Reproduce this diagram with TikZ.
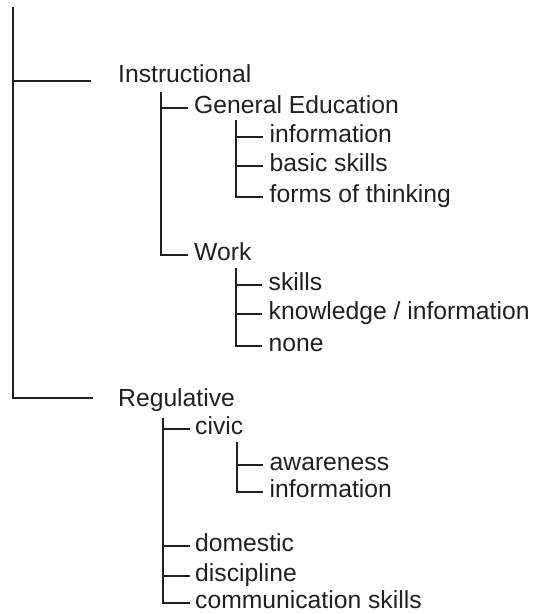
\documentclass[tikz,border=0pt]{standalone}
\usepackage{fontspec}
\setmainfont{Liberation Sans}
\definecolor{ink}{HTML}{231F20}
\begin{document}
\begin{tikzpicture}[x=1pt,y=-1pt,
  txt/.style={font=\fontsize{24.7}{30}\selectfont, text=ink},
  headitem/.style={txt, inner sep=0pt, anchor=base west},
  item/.style={txt, inner ysep=0pt, text height=12.5pt, text depth=2.5pt, anchor=west},
  midtier/.style={item, inner xsep=6pt},
  lowtier/.style={item, inner xsep=6.5pt},
  link/.style={draw=ink, line width=1.6pt}]
\useasboundingbox (0,0) rectangle (537,614);

% top-level categories
\node[headitem] (inst) at (118,82) {Instructional};
\node[headitem] (reg) at (118,406) {Regulative};

% instructional branch
\node[midtier] (gen) at (188,108) {General Education};
\node[midtier] (work) at (188,255) {Work};
\node[lowtier] (ginf) at (263,137) {information};
\node[lowtier] (gbas) at (263,166) {basic skills};
\node[lowtier] (gthk) at (263,197) {forms of thinking};
\node[lowtier] (wskl) at (262,285) {skills};
\node[lowtier] (wknw) at (262,314) {knowledge / information};
\node[lowtier] (wnon) at (262,346) {none};

% regulative branch
\node[midtier, inner xsep=5pt] (civ) at (190,429) {civic};
\node[midtier, inner xsep=5pt] (dom) at (190,546) {domestic};
\node[midtier, inner xsep=5pt] (dis) at (190,576) {discipline};
\node[midtier, inner xsep=5pt] (com) at (190,603) {communication skills};
\node[lowtier] (caw) at (263,465) {awareness};
\node[lowtier] (cinf) at (263,492) {information};

% tops of the vertical bars
\coordinate (root) at (13,7);
\coordinate (instbar) at (161,92);
\coordinate (genbar) at (236,120);
\coordinate (workbar) at (236,268);
\coordinate (regbar) at (163,418);
\coordinate (civbar) at (237,442);

% connectors
\draw[link] (root) |- ([xshift=-27pt,yshift=1pt]inst.base west);
\draw[link] (root) |- ([xshift=-25pt,yshift=8pt]reg.base west);
\foreach \c in {gen,work} \draw[link] (instbar) |- (\c.west);
\foreach \c in {ginf,gbas,gthk} \draw[link] (genbar) |- (\c.west);
\foreach \c in {wskl,wknw,wnon} \draw[link] (workbar) |- (\c.west);
\foreach \c in {civ,dom,dis,com} \draw[link] (regbar) |- (\c.west);
\foreach \c in {caw,cinf} \draw[link] (civbar) |- (\c.west);
\end{tikzpicture}
\end{document}
